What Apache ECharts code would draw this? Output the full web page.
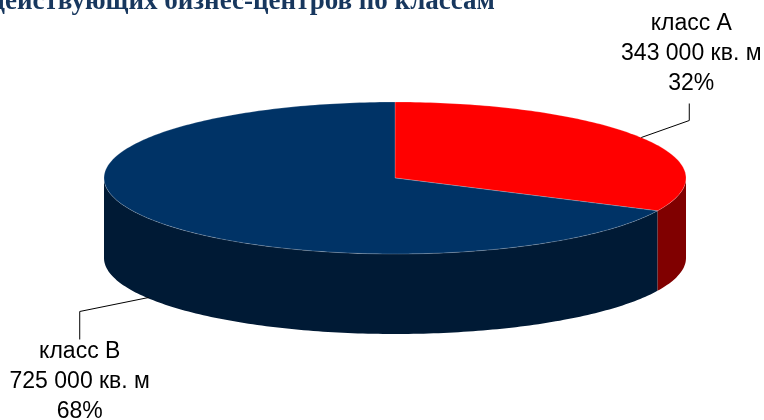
<!DOCTYPE html>
<html><head><meta charset="utf-8">
<script src="https://cdn.jsdelivr.net/npm/echarts@6/dist/echarts.min.js"></script>
<style>html,body{margin:0;padding:0;background:#fff}#c{width:764px;height:420px}</style>
</head><body><div id="c"></div>
<script>
var categories = ['класс А', 'класс В'];
var areaLabels = ['343 000 кв. м', '725 000 кв. м'];
var values = [343000, 725000];
var percentLabels = ['32%', '68%'];
var topColors = ['#ff0000', '#003366'];
var sideColors = ['#800000', '#001a35'];

var CX = 395, CY = 178, RX = 291, RY = 76, DEPTH = 80;
var total = values.reduce(function (a, b) { return a + b; }, 0);
var starts = [], acc = 0;
values.forEach(function (v) { starts.push(acc / total * 360); acc += v; });

function pt(deg, dy) {
  var r = deg * Math.PI / 180;
  return [CX + RX * Math.sin(r), CY - RY * Math.cos(r) + (dy || 0)];
}
function arcPts(a, b, dy) {
  var pts = [], n = Math.max(2, Math.ceil(Math.abs(b - a) / 1));
  for (var i = 0; i <= n; i++) pts.push(pt(a + (b - a) * i / n, dy));
  return pts;
}

var labelCfg = [
  { offs: [[48, -17], [48, -34]], text: [50, -39], va: 'bottom' },
  { offs: [[-69, 14], [-69, 42]], text: [-69, 39], va: 'top' }
];

var chart = echarts.init(document.getElementById('c'), null, { renderer: 'canvas' });
chart.setOption({
  animation: false,
  title: {
    text: 'действующих бизнес-центров по классам',
    right: 269, top: -11, padding: 0,
    textStyle: { fontFamily: 'Liberation Serif', fontWeight: 'bold', fontSize: 27, color: '#17375e' }
  },
  series: [{
    type: 'custom',
    coordinateSystem: 'none',
    data: values.map(function (v, i) { return { value: v, name: categories[i] }; }),
    renderItem: function (params, api) {
      var i = params.dataIndex;
      var a = starts[i], b = a + values[i] / total * 360;
      var children = [];
      var sa = Math.max(a, 90), sb = Math.min(b, 270);
      if (sb > sa) {
        var topEdge = arcPts(sa, sb, 0);
        var botEdge = arcPts(sb, sa, DEPTH);
        children.push({ type: 'polygon', z2: 1, shape: { points: topEdge.concat(botEdge) },
          style: { fill: sideColors[i] } });
      }
      var pts = [[CX, CY]].concat(arcPts(a, b, 0));
      children.push({ type: 'polygon', z2: 2, shape: { points: pts },
        style: { fill: topColors[i], stroke: 'rgba(255,255,255,0.35)', lineWidth: 0.6 } });
      var mid = (a + b) / 2;
      var front = (mid > 90 && mid < 270);
      var anchor = front ? pt(mid, DEPTH - 1) : pt(mid, 0);
      var cfg = labelCfg[i];
      var p1 = [anchor[0] + cfg.offs[0][0], anchor[1] + cfg.offs[0][1]];
      var p2 = [anchor[0] + cfg.offs[1][0], anchor[1] + cfg.offs[1][1]];
      children.push({ type: 'polyline', z2: 3, shape: { points: [anchor, p1, p2] },
        style: { stroke: '#000', lineWidth: 1, fill: null } });
      children.push({ type: 'text', z2: 3, x: anchor[0] + cfg.text[0], y: anchor[1] + cfg.text[1],
        style: { text: categories[i] + '\n' + areaLabels[i] + '\n' + percentLabels[i],
          fontFamily: 'Liberation Sans', fontSize: 23, lineHeight: 30,
          fill: '#000', align: 'center', verticalAlign: cfg.va } });
      return { type: 'group', children: children };
    }
  }]
});
</script></body></html>
